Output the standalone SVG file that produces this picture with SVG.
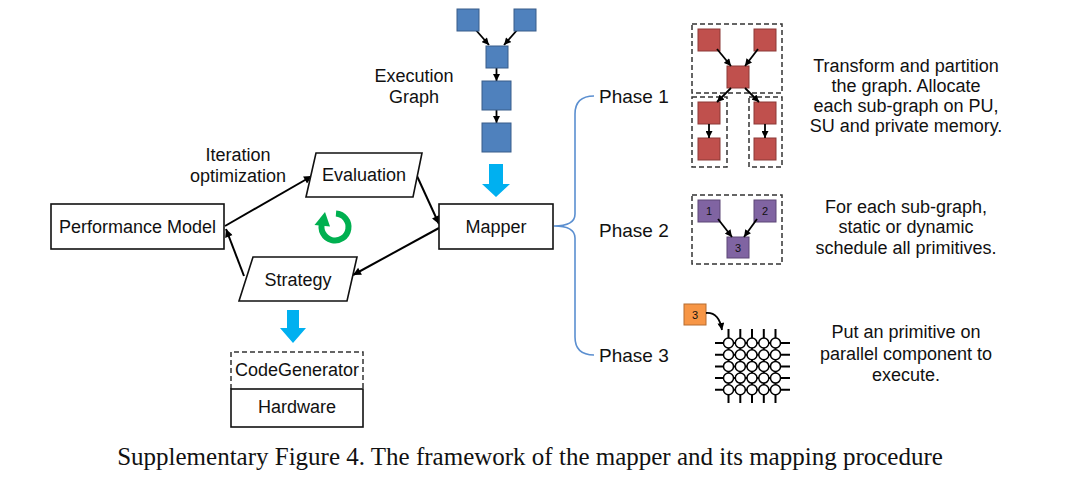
<svg xmlns="http://www.w3.org/2000/svg" width="1076" height="479" viewBox="0 0 1076 479">
<style>
text{font-family:"Liberation Sans",Arial,sans-serif;fill:#111;}
.t{font-size:18px;text-anchor:middle;}
.ph{font-size:19px;}
.box{fill:#fff;stroke:#111;stroke-width:1.6;}
.dash{fill:none;stroke:#333;stroke-width:1.5;stroke-dasharray:5 3;}
.conn{fill:none;stroke:#000;stroke-width:2;marker-end:url(#ah);}
.sconn{fill:none;stroke:#000;stroke-width:1.8;marker-end:url(#sah);}
.blue{fill:#4F81BD;stroke:#385D8A;stroke-width:1;}
.red{fill:#C0504D;stroke:#8C3836;stroke-width:1;}
.pur{fill:#8064A2;stroke:#5C4776;stroke-width:1;}
.org{fill:#F79646;stroke:#B66D31;stroke-width:1;}
.fat{fill:#00B0F0;}
.num{font-size:11px;text-anchor:middle;}
.grid line{stroke:#000;stroke-width:2;}
.grid circle{fill:#fff;stroke:#000;stroke-width:1.5;}
</style>
<defs>
<marker id="ah" viewBox="0 0 10 10" refX="10" refY="5" markerWidth="9" markerHeight="8" markerUnits="userSpaceOnUse" orient="auto"><path d="M0,0 L10,5 L0,10 z" fill="#000"/></marker>
<marker id="sah" viewBox="0 0 10 10" refX="10" refY="5" markerWidth="8" markerHeight="7" markerUnits="userSpaceOnUse" orient="auto"><path d="M0,0 L10,5 L0,10 z" fill="#000"/></marker>
</defs>
<rect width="1076" height="479" fill="#fff"/>

<g id="connectors">
<line class="conn" x1="225" y1="226" x2="312" y2="176"/>
<line class="conn" x1="244" y1="276" x2="226" y2="229"/>
<line class="conn" x1="417" y1="176" x2="439" y2="224"/>
<line class="conn" x1="439" y1="228" x2="353" y2="275"/>
<path d="M594,96 Q575,96 575,114 L575,214 Q575,226 554,226 Q575,226 575,238 L575,337 Q575,355 594,355" fill="none" stroke="#5B8FD0" stroke-width="1.6"/>
<line class="sconn" x1="475" y1="29" x2="489" y2="45"/>
<line class="sconn" x1="518" y1="29" x2="504" y2="45"/>
<line class="sconn" x1="496.5" y1="67" x2="496.5" y2="81"/>
<line class="sconn" x1="496.5" y1="110" x2="496.5" y2="123"/>
<path class="fat" d="M489,164 H503 V184 H510 L496,197 L482,184 H489 Z"/>
<path class="fat" d="M287,310 H299 V328 H306 L293,343 L280,328 H287 Z"/>
</g>

<g id="execution-graph">
<rect class="blue" x="457" y="9" width="22" height="22"/>
<rect class="blue" x="514" y="9" width="22" height="22"/>
<rect class="blue" x="486" y="46" width="22" height="22"/>
<rect class="blue" x="482" y="81" width="29" height="29"/>
<rect class="blue" x="482" y="123" width="29" height="29"/>
<text class="t" x="414" y="82">Execution</text>
<text class="t" x="414" y="103">Graph</text>
</g>

<g id="performance-model">
<rect class="box" x="51" y="204" width="173" height="45"/>
<text class="t" x="137.5" y="233">Performance Model</text>
</g>

<g id="iteration-label">
<text class="t" x="238" y="161">Iteration</text>
<text class="t" x="238" y="182">optimization</text>
</g>

<g id="evaluation">
<polygon class="box" points="316,153 422,153 413,197 306,197"/>
<text class="t" x="364" y="181">Evaluation</text>
</g>

<g id="strategy">
<polygon class="box" points="253,257 357,257 347,301 239,301"/>
<text class="t" x="298" y="286">Strategy</text>
</g>

<g id="loop-icon">
<path d="M336,213.5 A13.5,13.5 0 1 1 322.3,222.4" fill="none" stroke="#00B050" stroke-width="6"/>
<polygon points="314.5,225 330,226.5 325,212" fill="#00B050"/>
</g>

<g id="mapper">
<rect class="box" x="439" y="204" width="114" height="45"/>
<text class="t" x="496" y="233">Mapper</text>
</g>

<g id="codegen-hardware">
<path class="dash" d="M231,389 V352 H363 V389"/>
<text class="t" x="297" y="376">CodeGenerator</text>
<rect class="box" x="231" y="389" width="132" height="38"/>
<text class="t" x="297" y="413">Hardware</text>
</g>

<g id="phase1">
<text class="ph" x="599" y="103">Phase 1</text>
<rect class="dash" x="692" y="24" width="90" height="69"/>
<rect class="dash" x="692" y="97" width="35" height="70"/>
<rect class="dash" x="749" y="97" width="33" height="70"/>
<rect class="red" x="698" y="29" width="22" height="22"/>
<rect class="red" x="754" y="29" width="22" height="22"/>
<rect class="red" x="727" y="66" width="22" height="22"/>
<rect class="red" x="698" y="102" width="22" height="22"/>
<rect class="red" x="698" y="138" width="22" height="22"/>
<rect class="red" x="754" y="102" width="22" height="22"/>
<rect class="red" x="754" y="138" width="22" height="22"/>
<line class="sconn" x1="717" y1="49" x2="731" y2="66"/>
<line class="sconn" x1="758" y1="49" x2="745" y2="66"/>
<line class="sconn" x1="731" y1="88" x2="717" y2="102"/>
<line class="sconn" x1="745" y1="88" x2="759" y2="102"/>
<line class="sconn" x1="709" y1="124" x2="709" y2="138"/>
<line class="sconn" x1="765" y1="124" x2="765" y2="138"/>
<text class="t" x="906" y="72">Transform and partition</text>
<text class="t" x="906" y="92">the graph. Allocate</text>
<text class="t" x="906" y="112">each sub-graph on PU,</text>
<text class="t" x="906" y="132">SU and private memory.</text>
</g>

<g id="phase2">
<text class="ph" x="599" y="237">Phase 2</text>
<rect class="dash" x="692" y="195" width="90" height="69"/>
<rect class="pur" x="698" y="200" width="22" height="22"/>
<rect class="pur" x="754" y="200" width="22" height="22"/>
<rect class="pur" x="727" y="237" width="22" height="21"/>
<text class="num" x="709" y="215">1</text>
<text class="num" x="765" y="215">2</text>
<text class="num" x="738" y="251.5">3</text>
<line class="sconn" x1="718" y1="219" x2="732" y2="237"/>
<line class="sconn" x1="757" y1="219" x2="744" y2="237"/>
<text class="t" x="906" y="213">For each sub-graph,</text>
<text class="t" x="906" y="233">static or dynamic</text>
<text class="t" x="906" y="254">schedule all primitives.</text>
</g>

<g id="phase3">
<text class="ph" x="599" y="362">Phase 3</text>
<rect class="org" x="684" y="304" width="22" height="21"/>
<text class="num" x="695" y="319">3</text>
<path class="sconn" d="M706,313 Q719,312 722,330"/>
<g class="grid">
<line x1="728.5" y1="329" x2="728.5" y2="403"/>
<line x1="740.3" y1="329" x2="740.3" y2="403"/>
<line x1="752" y1="329" x2="752" y2="403"/>
<line x1="763.8" y1="329" x2="763.8" y2="403"/>
<line x1="775.5" y1="329" x2="775.5" y2="403"/>
<line x1="715" y1="343" x2="790" y2="343"/>
<line x1="715" y1="354.7" x2="790" y2="354.7"/>
<line x1="715" y1="366.4" x2="790" y2="366.4"/>
<line x1="715" y1="378.1" x2="790" y2="378.1"/>
<line x1="715" y1="389.8" x2="790" y2="389.8"/>
<circle cx="728.5" cy="343" r="5"/><circle cx="740.3" cy="343" r="5"/><circle cx="752" cy="343" r="5"/><circle cx="763.8" cy="343" r="5"/><circle cx="775.5" cy="343" r="5"/>
<circle cx="728.5" cy="354.7" r="5"/><circle cx="740.3" cy="354.7" r="5"/><circle cx="752" cy="354.7" r="5"/><circle cx="763.8" cy="354.7" r="5"/><circle cx="775.5" cy="354.7" r="5"/>
<circle cx="728.5" cy="366.4" r="5"/><circle cx="740.3" cy="366.4" r="5"/><circle cx="752" cy="366.4" r="5"/><circle cx="763.8" cy="366.4" r="5"/><circle cx="775.5" cy="366.4" r="5"/>
<circle cx="728.5" cy="378.1" r="5"/><circle cx="740.3" cy="378.1" r="5"/><circle cx="752" cy="378.1" r="5"/><circle cx="763.8" cy="378.1" r="5"/><circle cx="775.5" cy="378.1" r="5"/>
<circle cx="728.5" cy="389.8" r="5"/><circle cx="740.3" cy="389.8" r="5"/><circle cx="752" cy="389.8" r="5"/><circle cx="763.8" cy="389.8" r="5"/><circle cx="775.5" cy="389.8" r="5"/>
</g>
<text class="t" x="906" y="338">Put an primitive on</text>
<text class="t" x="906" y="360">parallel component to</text>
<text class="t" x="906" y="381">execute.</text>
</g>

<text x="530" y="465" text-anchor="middle" style="font-family:'Liberation Serif','Times New Roman',serif;font-size:25px;">Supplementary Figure 4. The framework of the mapper and its mapping procedure</text>
</svg>
